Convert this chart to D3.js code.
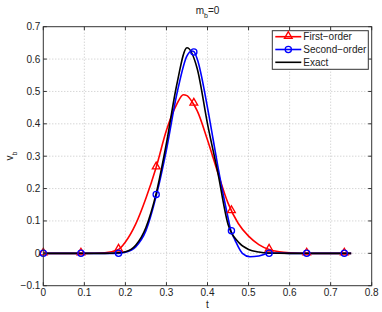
<!DOCTYPE html>
<html>
<head>
<meta charset="utf-8">
<script src="https://cdn.jsdelivr.net/npm/d3@7"></script>
<style>
  body { margin: 0; background: #fff; }
  svg { font-family: "Liberation Sans", Arial, sans-serif; }
  .grid line { stroke: #b8b8b8; stroke-dasharray: 1,2; stroke-width: 0.8; }
  .tick-label { font-size: 10px; fill: #222; }
</style>
</head>
<body>
<svg width="382" height="312"></svg>
<script>
const w = 382, h = 312;
const plotL = 43.3, plotR = 371.7, plotT = 26.7, plotB = 285.7;

const xTicks = [0, 0.1, 0.2, 0.3, 0.4, 0.5, 0.6, 0.7, 0.8];
const yTicks = [-0.1, 0, 0.1, 0.2, 0.3, 0.4, 0.5, 0.6, 0.7];

const exactT = [0, 0.1, 0.15, 0.175, 0.2, 0.225, 0.25, 0.275, 0.3, 0.325, 0.35, 0.375, 0.4, 0.425, 0.45, 0.475, 0.5, 0.525, 0.55, 0.6, 0.75];
const exactV = [0, 0, 0, 0.001, 0.005, 0.025, 0.08, 0.185, 0.34, 0.52, 0.635, 0.57, 0.40, 0.25, 0.09, 0.035, 0.012, 0.004, 0.001, 0, 0];

const firstT = [0, 0.1, 0.15, 0.183, 0.2, 0.225, 0.25, 0.275, 0.3, 0.325, 0.341, 0.35, 0.364, 0.375, 0.4, 0.425, 0.45, 0.475, 0.5, 0.525, 0.55, 0.575, 0.6, 0.65, 0.75];
const firstV = [0, 0, 0.002, 0.012, 0.035, 0.09, 0.17, 0.266, 0.38, 0.46, 0.49, 0.487, 0.465, 0.44, 0.35, 0.25, 0.155, 0.092, 0.053, 0.027, 0.012, 0.005, 0.002, 0, 0];

const secondT = [0, 0.1, 0.183, 0.2, 0.225, 0.25, 0.276, 0.3, 0.325, 0.35, 0.362, 0.367, 0.375, 0.4, 0.414, 0.425, 0.45, 0.4565, 0.467, 0.485, 0.5035, 0.525, 0.55, 0.575, 0.6, 0.75];
const secondV = [0, 0, 0, 0.003, 0.02, 0.07, 0.182, 0.32, 0.49, 0.61, 0.625, 0.623, 0.6, 0.45, 0.35, 0.27, 0.11, 0.072, 0.041, 0, -0.0105, -0.008, 0, 0.0005, 0, 0];

const markT = [0, 0.0917, 0.1833, 0.275, 0.3667, 0.4583, 0.55, 0.6417, 0.7333];
const firstMarks = [0, 0, 0.012, 0.266, 0.463, 0.131, 0.012, 0, 0];
const secondMarks = [0, 0, 0, 0.182, 0.622, 0.07, 0, 0, 0];

const seriesNames = ["First\u2212order", "Second\u2212order", "Exact"];

const x = d3.scaleLinear().domain([0, 0.8]).range([plotL, plotR]);
const y = d3.scaleLinear().domain([-0.1, 0.7]).range([plotB, plotT]);

const svg = d3.select("svg");

// grid
const grid = svg.append("g").attr("class", "grid");
grid.selectAll("line.gx").data(xTicks.slice(1, -1)).join("line").attr("class", "gx")
    .attr("x1", d => x(d)).attr("x2", d => x(d))
    .attr("y1", plotT).attr("y2", plotB);
grid.selectAll("line.gy").data(yTicks.slice(1, -1)).join("line").attr("class", "gy")
    .attr("x1", plotL).attr("x2", plotR)
    .attr("y1", d => y(d)).attr("y2", d => y(d));

// lines
const line = d3.line().x(d => x(d[0])).y(d => y(d[1])).curve(d3.curveMonotoneX);
const zip = (a, b) => a.map((t, i) => [t, b[i]]);

svg.append("path").datum(zip(firstT, firstV))
    .attr("d", line).attr("fill", "none").attr("stroke", "#ff0000").attr("stroke-width", 1.6);
svg.append("path").datum(zip(secondT, secondV))
    .attr("d", line).attr("fill", "none").attr("stroke", "#0000ff").attr("stroke-width", 1.6);
svg.append("path").datum(zip(exactT, exactV))
    .attr("d", line).attr("fill", "none").attr("stroke", "#000").attr("stroke-width", 1.6);

const tri = d3.symbol().type(d3.symbolTriangle).size(26);

function drawMarkers(g, t, v, kind, color) {
    const pts = zip(t, v);
    if (kind == "tri") {
        g.selectAll("path.m").data(pts).join("path").attr("class", "m")
            .attr("d", tri)
            .attr("transform", d => `translate(${[x(d[0]), y(d[1]) - 0.6]})`)
            .attr("fill", "none").attr("stroke", color).attr("stroke-width", 1.3);
    } else {
        g.selectAll("circle.m").data(pts).join("circle").attr("class", "m")
            .attr("cx", d => x(d[0])).attr("cy", d => y(d[1])).attr("r", 3.1)
            .attr("fill", "none").attr("stroke", color).attr("stroke-width", 1.3);
    }
}
drawMarkers(svg.append("g"), markT, firstMarks, "tri", "#ff0000");
drawMarkers(svg.append("g"), markT, secondMarks, "circ", "#0000ff");

// frame + ticks
svg.append("rect").attr("x", plotL).attr("y", plotT)
    .attr("width", plotR - plotL).attr("height", plotB - plotT)
    .attr("fill", "none").attr("stroke", "#333").attr("stroke-width", 1);

const ticks = svg.append("g").attr("stroke", "#333").attr("stroke-width", 1);
xTicks.forEach(d => {
    ticks.append("line").attr("x1", x(d)).attr("x2", x(d)).attr("y1", plotB).attr("y2", plotB - 3.5);
    ticks.append("line").attr("x1", x(d)).attr("x2", x(d)).attr("y1", plotT).attr("y2", plotT + 3.5);
});
yTicks.forEach(d => {
    ticks.append("line").attr("x1", plotL).attr("x2", plotL + 3.5).attr("y1", y(d)).attr("y2", y(d));
    ticks.append("line").attr("x1", plotR).attr("x2", plotR - 3.5).attr("y1", y(d)).attr("y2", y(d));
});

const fmt = d => d == 0 ? "0" : d3.format(".1f")(d).replace("-", "\u2212");
svg.selectAll("text.xl").data(xTicks).join("text").attr("class", "tick-label xl")
    .attr("x", d => x(d)).attr("y", 295.5).attr("text-anchor", "middle").text(fmt);
svg.selectAll("text.yl").data(yTicks).join("text").attr("class", "tick-label yl")
    .attr("x", plotL - 3).attr("y", d => y(d) + 3.5).attr("text-anchor", "end").text(fmt);

// axis labels
svg.append("text").attr("class", "tick-label").attr("x", (plotL + plotR) / 2).attr("y", 308)
    .attr("text-anchor", "middle").text("t");
const yl = svg.append("text").attr("class", "tick-label")
    .attr("transform", `translate(${[13, 156]}) rotate(-90)`).attr("text-anchor", "middle");
yl.append("tspan").text("v");
yl.append("tspan").attr("baseline-shift", "sub").attr("font-size", "7px").text("b");

const title = svg.append("text").attr("class", "tick-label")
    .attr("x", (plotL + plotR) / 2).attr("y", 14).attr("text-anchor", "middle");
title.append("tspan").text("m");
title.append("tspan").attr("baseline-shift", "sub").attr("font-size", "7px").text("b");
title.append("tspan").text("=0");

// legend
const lg = svg.append("g").attr("transform", `translate(${[272.3, 30.7]})`);
lg.append("rect").attr("width", 96).attr("height", 38.6)
    .attr("fill", "#fff").attr("stroke", "#333").attr("stroke-width", 1);
const colors = ["#ff0000", "#0000ff", "#000"];
seriesNames.forEach((name, i) => {
    const yy = 6 + i * 12.8;
    lg.append("line").attr("x1", 3).attr("x2", 29).attr("y1", yy).attr("y2", yy)
        .attr("stroke", colors[i]).attr("stroke-width", 1.6);
    if (i == 0) {
        lg.append("path").attr("d", tri).attr("transform", `translate(${[16, yy - 0.6]})`)
            .attr("fill", "none").attr("stroke", colors[i]).attr("stroke-width", 1.3);
    } else if (i == 1) {
        lg.append("circle").attr("cx", 16).attr("cy", yy).attr("r", 3.1)
            .attr("fill", "none").attr("stroke", colors[i]).attr("stroke-width", 1.3);
    }
    lg.append("text").attr("class", "tick-label").attr("x", 31).attr("y", yy + 3.6).text(name);
});
</script>
</body>
</html>
